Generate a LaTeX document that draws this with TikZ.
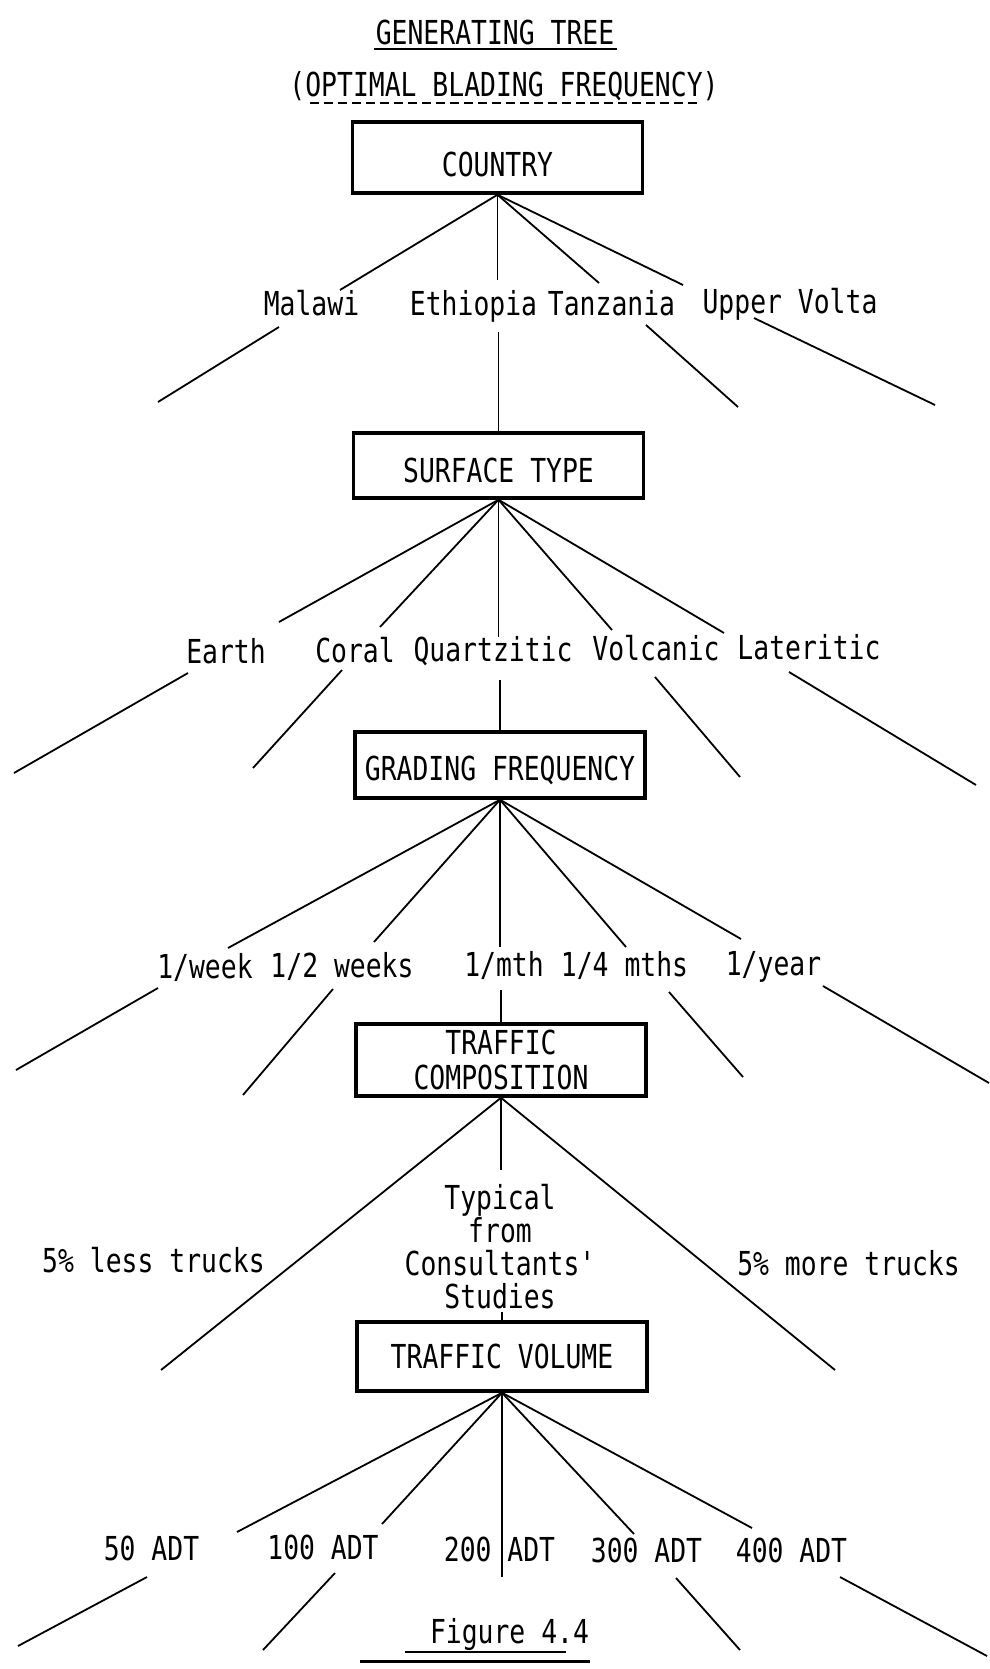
\documentclass[tikz,border=0pt]{standalone}
\usepackage{fontspec}
\newfontfamily\tw[FakeStretch=0.8]{DejaVu Sans Mono}
\begin{document}
\begin{tikzpicture}[x=1pt,y=-1pt,line width=1.8pt,
  every node/.style={font=\tw\fontsize{33}{33}\selectfont,inner sep=0pt},
  box/.style={draw,line width=3.5pt,minimum width=290pt},
  lbl/.style={anchor=base},
  seg/.style={line width=1.8pt}]
\fill[white] (0,0) rectangle (989,1669);
\useasboundingbox (0,0) rectangle (989,1669);

% titles
\node[lbl] (title) at (495,45) {GENERATING TREE};
\node[lbl] (subtitle) at (504,97) {(OPTIMAL BLADING FREQUENCY)};
\draw[line width=2pt] (374,49) -- (617,49);
\draw[line width=1.4pt,dash pattern=on 9pt off 5pt] (310,103) -- (697,103);

% boxes
\node[box,minimum height=71pt,text height=39pt,text depth=0pt] (country) at (497.5,157.5) {COUNTRY};
\node[box,minimum height=65pt,text height=33pt,text depth=0pt] (surface) at (498.5,465.5) {SURFACE TYPE};
\node[box,minimum height=66pt,text height=30pt,text depth=0pt] (grading) at (500,765) {GRADING FREQUENCY};
\node[box,minimum height=72pt,align=center,font=\tw\fontsize{33}{35}\selectfont] (trafcomp) at (501,1060) {TRAFFIC\\COMPOSITION};
\node[box,minimum height=69pt,text height=24pt,text depth=0pt] (trafvol) at (502,1356.5) {TRAFFIC VOLUME};

% level 1 labels
\node[lbl] (malawi) at (311.5,316) {Malawi};
\node[lbl] (ethiopia) at (473.5,316) {Ethiopia};
\node[lbl] (tanzania) at (611.5,316) {Tanzania};
\node[lbl] (volta) at (790,314) {Upper Volta};
% level 2 labels
\node[lbl] (earth) at (226,663) {Earth};
\node[lbl] (coral) at (355,662) {Coral};
\node[lbl] (quartz) at (493,661) {Quartzitic};
\node[lbl] (volcanic) at (656,660) {Volcanic};
\node[lbl] (later) at (809,659) {Lateritic};
% level 3 labels
\node[lbl] (week) at (205,978) {1/week};
\node[lbl] (twoweeks) at (342,977) {1/2 weeks};
\node[lbl] (month) at (504,976) {1/mth};
\node[lbl] (fourmonths) at (624.5,976) {1/4 mths};
\node[lbl] (year) at (773.5,975) {1/year};
% level 4 labels
\node[lbl] (less) at (153.5,1272) {5\% less trucks};
\node[lbl] (more) at (848.5,1275) {5\% more trucks};
\node[anchor=north,align=center] (typical) at (500,1183) {Typical\\from\\Consultants'\\Studies};
% level 5 labels
\node[lbl] (adt50) at (151.5,1560) {50 ADT};
\node[lbl] (adt100) at (323,1559) {100 ADT};
\node[lbl] (adt200) at (499.5,1561) {200 ADT};
\node[lbl] (adt300) at (646.5,1562) {300 ADT};
\node[lbl] (adt400) at (791.5,1562) {400 ADT};
% caption
\node[lbl] (fig) at (509.5,1643) {Figure 4.4};
\draw[line width=1.5pt] (405,1652) -- (566,1652);
\draw[line width=3pt] (360,1661) -- (590,1661);

% level 1
\coordinate (a1) at (340,290); \coordinate (a2) at (497.5,280);
\coordinate (a3) at (599,283); \coordinate (a4) at (683,285);
\coordinate (b1) at (279,327); \coordinate (b1e) at (158,402);
\coordinate (b2) at (498.5,332);
\coordinate (b3) at (646,325); \coordinate (b3e) at (738,407);
\coordinate (b4) at (754,318); \coordinate (b4e) at (935,405);
\foreach \q in {a1,a2,a3,a4} \draw[seg] (country.south) -- (\q);
\draw[seg] (b1) -- (b1e);
\draw[seg] (b2) -- (surface.north);
\draw[seg] (b3) -- (b3e);
\draw[seg] (b4) -- (b4e);

% level 2
\coordinate (c1) at (279,622); \coordinate (c2) at (380,627);
\coordinate (c3) at (498.5,637); \coordinate (c4) at (612,630);
\coordinate (c5) at (724,633);
\coordinate (d1) at (188,673); \coordinate (d1e) at (14,773);
\coordinate (d2) at (342,670); \coordinate (d2e) at (253,768);
\coordinate (d3) at (500,680);
\coordinate (d4) at (655,677); \coordinate (d4e) at (740,777);
\coordinate (d5) at (789,672); \coordinate (d5e) at (976,785);
\foreach \q in {c1,c2,c3,c4,c5} \draw[seg] (surface.south) -- (\q);
\draw[seg] (d1) -- (d1e);
\draw[seg] (d2) -- (d2e);
\draw[seg] (d3) -- (grading.north);
\draw[seg] (d4) -- (d4e);
\draw[seg] (d5) -- (d5e);

% level 3
\coordinate (e1) at (228,948); \coordinate (e2) at (374,942);
\coordinate (e3) at (500,947); \coordinate (e4) at (626,947);
\coordinate (e5) at (741,939);
\coordinate (f1) at (158,988); \coordinate (f1e) at (16,1070);
\coordinate (f2) at (333,989); \coordinate (f2e) at (243,1095);
\coordinate (f3) at (501,990);
\coordinate (f4) at (669,992); \coordinate (f4e) at (743,1077);
\coordinate (f5) at (823,986); \coordinate (f5e) at (989,1083);
\foreach \q in {e1,e2,e3,e4,e5} \draw[seg] (grading.south) -- (\q);
\draw[seg] (f1) -- (f1e);
\draw[seg] (f2) -- (f2e);
\draw[seg] (f3) -- (trafcomp.north);
\draw[seg] (f4) -- (f4e);
\draw[seg] (f5) -- (f5e);

% level 4
\coordinate (g1) at (161,1370); \coordinate (g2) at (501,1170);
\coordinate (g3) at (835,1370);
\coordinate (h2) at (502,1312);
\foreach \q in {g1,g2,g3} \draw[seg] (trafcomp.south) -- (\q);
\draw[seg] (h2) -- (trafvol.north);

% level 5
\coordinate (i1) at (237,1532); \coordinate (i2) at (382,1524);
\coordinate (i3) at (502,1577); \coordinate (i4) at (634,1534);
\coordinate (i5) at (752,1528);
\coordinate (j1) at (147,1577); \coordinate (j1e) at (18,1646);
\coordinate (j2) at (335,1573); \coordinate (j2e) at (263,1650);
\coordinate (j4) at (676,1578); \coordinate (j4e) at (740,1650);
\coordinate (j5) at (840,1577); \coordinate (j5e) at (987,1656);
\foreach \q in {i1,i2,i3,i4,i5} \draw[seg] (trafvol.south) -- (\q);
\draw[seg] (j1) -- (j1e);
\draw[seg] (j2) -- (j2e);
\draw[seg] (j4) -- (j4e);
\draw[seg] (j5) -- (j5e);
\end{tikzpicture}
\end{document}
